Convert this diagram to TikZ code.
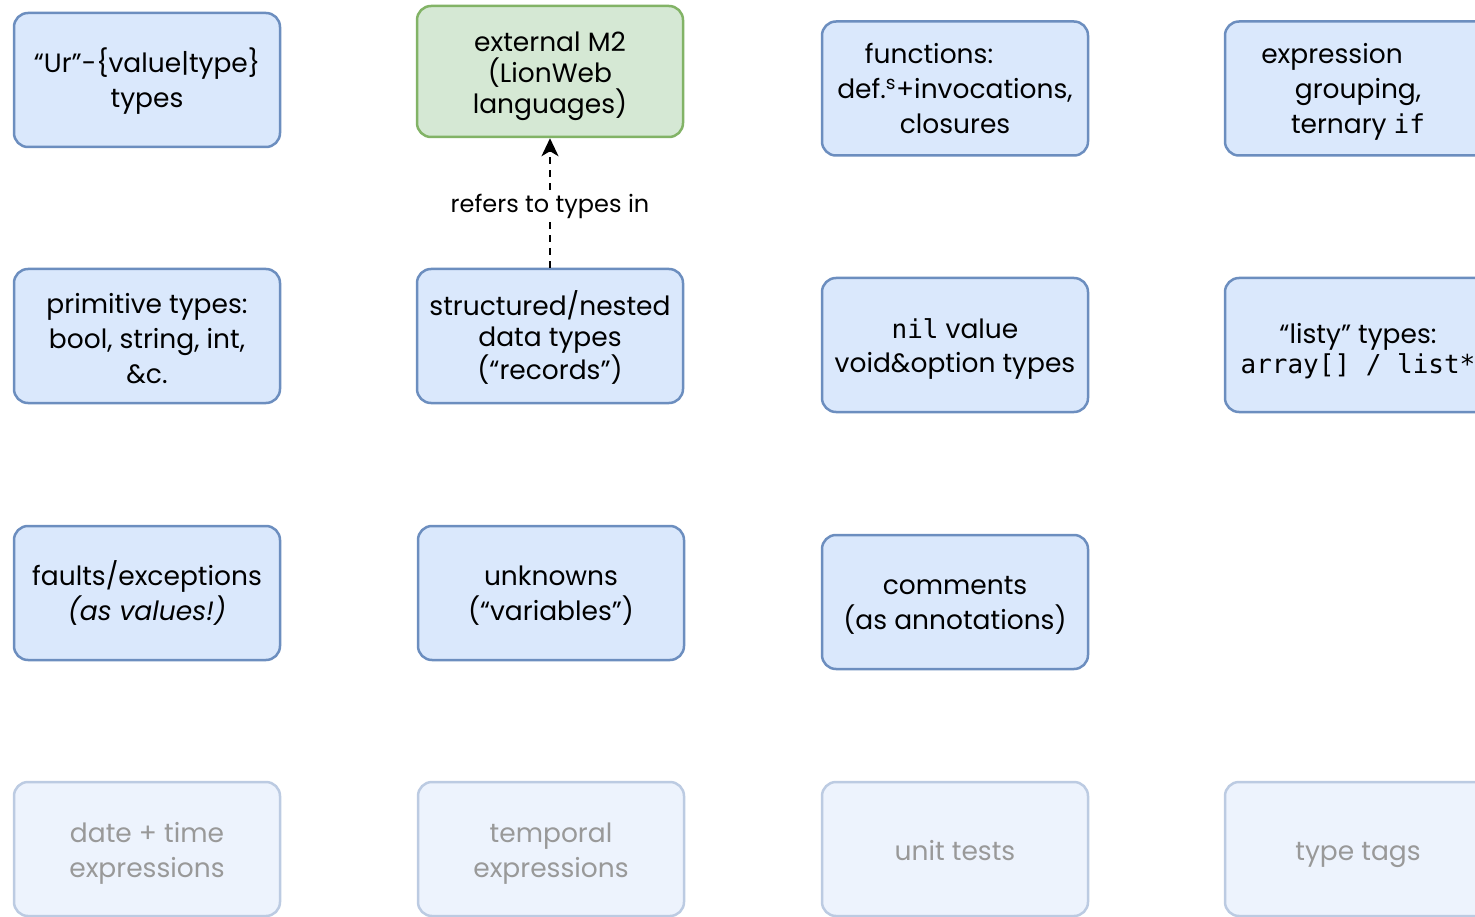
\documentclass[tikz,border=0pt]{standalone}
\usepackage{fontspec}
\setmainfont{Poppins}
\setmonofont{DejaVu Sans Mono}
\usetikzlibrary{arrows.meta}
\definecolor{boxfill}{HTML}{DAE8FC}
\definecolor{boxline}{HTML}{6C8EBF}
\definecolor{extfill}{HTML}{D5E8D4}
\definecolor{extline}{HTML}{82B366}
\definecolor{todofill}{HTML}{EDF3FD}
\definecolor{todoline}{HTML}{BCCBE2}
\definecolor{todotext}{HTML}{999999}
% invisible rule on the first line: lowers a label inside its box
\newcommand{\lowerby}[1]{\rule{0pt}{\dimexpr24.5pt+#1pt*2\relax}}
\newcommand{\code}[1]{{\ttfamily\fontsize{26}{30}\selectfont #1}}
\tikzset{
  x=1pt, y=-1pt,
  concept/.style={draw=boxline, fill=boxfill, line width=2.5pt, rounded corners=14pt,
    minimum width=266pt, minimum height=134pt, align=center, inner sep=0pt,
    font=\fontsize{26.5}{35}\selectfont, execute at end node=\strut},
  external/.style={concept, draw=extline, fill=extfill, minimum height=131pt,
    font=\fontsize{26.5}{31}\selectfont},
  tighter/.style={font=\fontsize{26.5}{31}\selectfont},
  planned/.style={concept, draw=todoline, fill=todofill, text=todotext},
  reflink/.style={-{Stealth[length=18pt,width=17pt,inset=5pt]}, line width=2pt,
    dash pattern=on 7pt off 6pt},
  linklabel/.style={fill=white, inner sep=2pt, font=\fontsize{24}{28}\selectfont}
}
\begin{document}
\begin{tikzpicture}
\useasboundingbox (0,0) rectangle (1475,917);
\clip (0,0) rectangle (1475,917);
% first row
\node[concept] (ur) at (147,80) {\lowerby{3}“Ur”-\{value|type\}\\types};
\node[external] (m2) at (550,71.5) {\lowerby{3}external M2\\(LionWeb\\languages)};
\node[concept] (fun) at (955,88.5) {\lowerby{3}functions:\hspace*{52pt}\\def.\textsuperscript{s}+invocations,\\closures};
\node[concept] (expr) at (1358,88.5) {\lowerby{3}expression\hspace*{52pt}\\grouping,\\ternary \code{if}};
% second row
\node[concept] (prim) at (147,336) {\lowerby{5}primitive types:\\bool, string, int,\\\&c.};
\node[concept, tighter] (rec) at (550,336) {\lowerby{4}structured/nested\\data types\\(“records”)};
\node[concept, font=\fontsize{26.5}{34}\selectfont] (nil) at (955,345) {\lowerby{3}\code{nil} value\\void\&option types};
\node[concept, font=\fontsize{26.5}{30}\selectfont] (listy) at (1358,345) {\lowerby{6}“listy” types:\\\code{array[] / list*}};
% third row
\node[concept] (fault) at (147,593) {\lowerby{3}faults/exceptions\\\textit{(as values!)}};
\node[concept] (unk) at (551,593) {\lowerby{3}unknowns\\(“variables”)};
\node[concept] (comm) at (955,602) {\lowerby{3}comments\\(as annotations)};
% fourth row
\node[planned] (date) at (147,849) {\lowerby{4}date + time\\expressions};
\node[planned] (temp) at (551,849) {\lowerby{4}temporal\\expressions};
\node[planned] (unit) at (955,849) {\lowerby{4}unit tests};
\node[planned] (tags) at (1358,849) {\lowerby{4}type tags};
% reference to the external metamodel
\draw[reflink] (rec.north) -- (m2.south)
  node[midway, linklabel, yshift=-3pt] {refers to types in};
\end{tikzpicture}
\end{document}
